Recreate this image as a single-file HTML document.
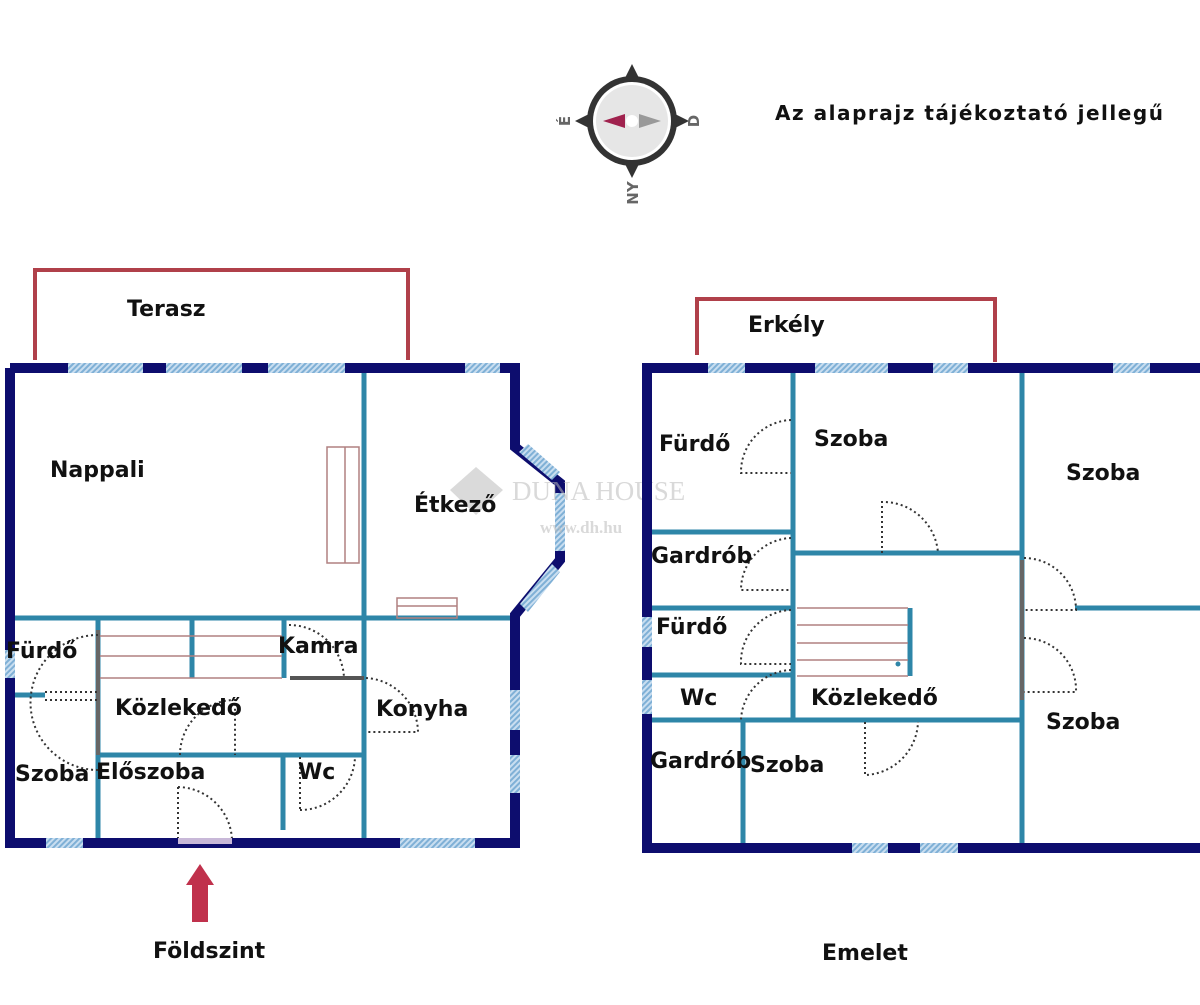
<!DOCTYPE html>
<html><head><meta charset="utf-8"><style>
html,body{margin:0;padding:0;background:#fff}
svg text{font-family:"DejaVu Sans","Liberation Sans",sans-serif;font-weight:bold;fill:#111}
</style></head><body>
<svg width="1200" height="1000" viewBox="0 0 1200 1000" xmlns="http://www.w3.org/2000/svg">
<defs>
<pattern id="h" width="4" height="4" patternUnits="userSpaceOnUse" patternTransform="rotate(45)">
<rect width="4" height="4" fill="#c9def0"/><rect width="2" height="4" fill="#7fb0d6"/></pattern>
</defs>
<rect width="1200" height="1000" fill="#fff"/>
<g>
<polygon points="632,64 640,80 624,80" fill="#333"/>
<polygon points="632,178 640,162 624,162" fill="#333"/>
<polygon points="575,121 591,113 591,129" fill="#333"/>
<polygon points="689,121 673,113 673,129" fill="#333"/>
<circle cx="632" cy="121" r="45" fill="#333"/>
<circle cx="632" cy="121" r="39" fill="#fff"/>
<circle cx="632" cy="121" r="36" fill="#e6e6e6"/>
<polygon points="603,121 625,114 625,128" fill="#a0224e"/>
<polygon points="661,121 639,114 639,128" fill="#999"/>
<circle cx="632" cy="121" r="6" fill="#fff"/>
<text x="0" y="0" font-size="15" transform="translate(570,121) rotate(-90)" text-anchor="middle" style="fill:#666">É</text>
<text x="0" y="0" font-size="15" transform="translate(699,121) rotate(-90)" text-anchor="middle" style="fill:#666">D</text>
<text x="0" y="0" font-size="15" transform="translate(638,193) rotate(-90)" text-anchor="middle" style="fill:#666">NY</text>
</g>
<text x="775" y="120" font-size="20" textLength="388" lengthAdjust="spacing">Az alaprajz tájékoztató jellegű</text>

<!-- LEFT PLAN -->
<polyline points="35,360 35,270 408,270 408,360" fill="none" stroke="#b0404a" stroke-width="4"/>
<text x="127" y="316" font-size="22">Terasz</text>
<g stroke="#2e86a8" stroke-width="5" fill="none">
<line x1="364" y1="372" x2="364" y2="840"/>
<line x1="14" y1="618" x2="515" y2="618"/>
<line x1="98" y1="618" x2="98" y2="838"/>
<line x1="192" y1="618" x2="192" y2="678"/>
<line x1="284" y1="618" x2="284" y2="678"/>
<line x1="290" y1="678" x2="364" y2="678" stroke="#555" stroke-width="4"/>
<line x1="14" y1="695" x2="45" y2="695"/>
<line x1="98" y1="755" x2="364" y2="755"/>
<line x1="283" y1="755" x2="283" y2="830"/>
<line x1="98" y1="630" x2="98" y2="755" stroke="#666" stroke-width="4"/>
</g>
<g stroke="#b08080" stroke-width="1.5" fill="none">
<line x1="100" y1="636" x2="282" y2="636"/><line x1="100" y1="656" x2="282" y2="656"/><line x1="100" y1="678" x2="282" y2="678"/>
<rect x="327" y="447" width="32" height="116"/><line x1="345" y1="447" x2="345" y2="563"/>
<rect x="397" y="598" width="60" height="20"/><line x1="397" y1="606" x2="457" y2="606"/>
</g>
<g fill="none" stroke="#333" stroke-width="2" stroke-dasharray="2,3">
<path d="M98,635 A60,60 0 0 0 98,770"/>
<line x1="45" y1="692" x2="98" y2="692"/><line x1="45" y1="700" x2="98" y2="700"/>
<path d="M289,625 A55,55 0 0 1 344,678"/>
<path d="M366,678 A55,55 0 0 1 418,732 L366,732"/>
<path d="M180,755 A55,55 0 0 1 235,700 L235,755"/>
<path d="M300,810 A55,55 0 0 0 355,757 M300,757 L300,810"/>
<path d="M178,787 A55,55 0 0 1 232,840 M178,787 L178,840"/>
</g>
<g stroke="#0d0d6e" stroke-width="10" fill="none" stroke-linejoin="miter">
<polyline points="10,368 515,368 515,447 560,483 560,560 515,615 515,843 10,843 10,368"/>
</g>
<g fill="url(#h)">
<rect x="68" y="363" width="75" height="10"/><rect x="166" y="363" width="76" height="10"/><rect x="268" y="363" width="77" height="10"/><rect x="465" y="363" width="35" height="10"/>
<polygon points="519,452 528,444 560,472 552,480"/>
<rect x="555" y="493" width="10" height="58"/>
<polygon points="552,564 560,572 528,612 520,604"/>
<rect x="510" y="690" width="10" height="40"/><rect x="510" y="755" width="10" height="38"/>
<rect x="46" y="838" width="37" height="10"/><rect x="400" y="838" width="75" height="10"/>
<rect x="5" y="650" width="10" height="28"/>
<rect x="178" y="838" width="54" height="6" fill="#c8b8d8"/>
</g>
<g opacity="0.55">
<polygon points="476,467 503,490 476,515 450,490" fill="#bbb"/>
<text x="512" y="500" font-size="27" style="font-family:'Liberation Serif',serif;font-weight:normal;fill:#bbb">DUNA HOUSE</text>
<text x="540" y="533" font-size="17" style="font-family:'Liberation Serif',serif;fill:#bbb">www.dh.hu</text>
</g>
<text x="50" y="477" font-size="22">Nappali</text>
<text x="414" y="512" font-size="22">Étkező</text>
<text x="6" y="658" font-size="22">Fürdő</text>
<text x="278" y="653" font-size="22">Kamra</text>
<text x="115" y="715" font-size="22">Közlekedő</text>
<text x="376" y="716" font-size="22">Konyha</text>
<text x="15" y="781" font-size="22">Szoba</text>
<text x="96" y="779" font-size="22">Előszoba</text>
<text x="298" y="779" font-size="22">Wc</text>
<polygon points="192,922 208,922 208,885 214,885 200,864 186,885 192,885" fill="#c0314c"/>
<text x="153" y="958" font-size="22">Földszint</text>

<!-- RIGHT PLAN -->
<polyline points="697,355 697,299 995,299 995,362" fill="none" stroke="#b0404a" stroke-width="4"/>
<text x="748" y="332" font-size="22">Erkély</text>
<g stroke="#2e86a8" stroke-width="5" fill="none">
<line x1="793" y1="372" x2="793" y2="722"/>
<line x1="1022" y1="372" x2="1022" y2="843"/>
<line x1="652" y1="532" x2="793" y2="532"/>
<line x1="793" y1="553" x2="1022" y2="553"/>
<line x1="652" y1="608" x2="793" y2="608"/>
<line x1="1075" y1="608" x2="1200" y2="608"/>
<line x1="652" y1="675" x2="793" y2="675"/>
<line x1="652" y1="720" x2="1022" y2="720"/>
<line x1="743" y1="720" x2="743" y2="843"/>
<line x1="910" y1="608" x2="910" y2="676"/>
<line x1="1022" y1="560" x2="1022" y2="700" stroke="#666" stroke-width="4"/>
</g>
<g stroke="#b08080" stroke-width="1.5">
<line x1="797" y1="608" x2="908" y2="608"/><line x1="797" y1="625" x2="908" y2="625"/><line x1="797" y1="643" x2="908" y2="643"/><line x1="797" y1="660" x2="908" y2="660"/><line x1="797" y1="676" x2="908" y2="676"/>
</g>
<circle cx="898" cy="664" r="2.5" fill="#2e86a8"/>
<g fill="none" stroke="#333" stroke-width="2" stroke-dasharray="2,3">
<path d="M791,420 A52,52 0 0 0 741,473 L791,473"/>
<path d="M791,538 A52,52 0 0 0 741,590 L791,590"/>
<path d="M791,610 A52,52 0 0 0 741,664 L791,664"/>
<path d="M791,670 A52,52 0 0 0 741,720"/>
<path d="M882,553 L882,502 A55,55 0 0 1 938,553"/>
<path d="M1024,558 A52,52 0 0 1 1076,610 L1024,610"/>
<path d="M1024,638 A52,52 0 0 1 1076,692 L1024,692"/>
<path d="M865,722 L865,775 A55,55 0 0 0 918,722"/>
</g>
<g stroke="#0d0d6e" stroke-width="10" fill="none">
<polyline points="1205,368 647,368 647,848 1205,848"/>
</g>
<g fill="url(#h)">
<rect x="708" y="363" width="37" height="10"/><rect x="815" y="363" width="73" height="10"/><rect x="933" y="363" width="35" height="10"/><rect x="1113" y="363" width="37" height="10"/>
<rect x="852" y="843" width="36" height="10"/><rect x="920" y="843" width="38" height="10"/>
<rect x="642" y="617" width="10" height="30"/><rect x="642" y="680" width="10" height="34"/>
</g>
<text x="659" y="451" font-size="22">Fürdő</text>
<text x="814" y="446" font-size="22">Szoba</text>
<text x="1066" y="480" font-size="22">Szoba</text>
<text x="651" y="563" font-size="22">Gardrób</text>
<text x="656" y="634" font-size="22">Fürdő</text>
<text x="680" y="705" font-size="22">Wc</text>
<text x="811" y="705" font-size="22">Közlekedő</text>
<text x="1046" y="729" font-size="22">Szoba</text>
<text x="650" y="768" font-size="22">Gardrób</text>
<text x="750" y="772" font-size="22">Szoba</text>
<text x="822" y="960" font-size="22">Emelet</text>
</svg>
</body></html>
